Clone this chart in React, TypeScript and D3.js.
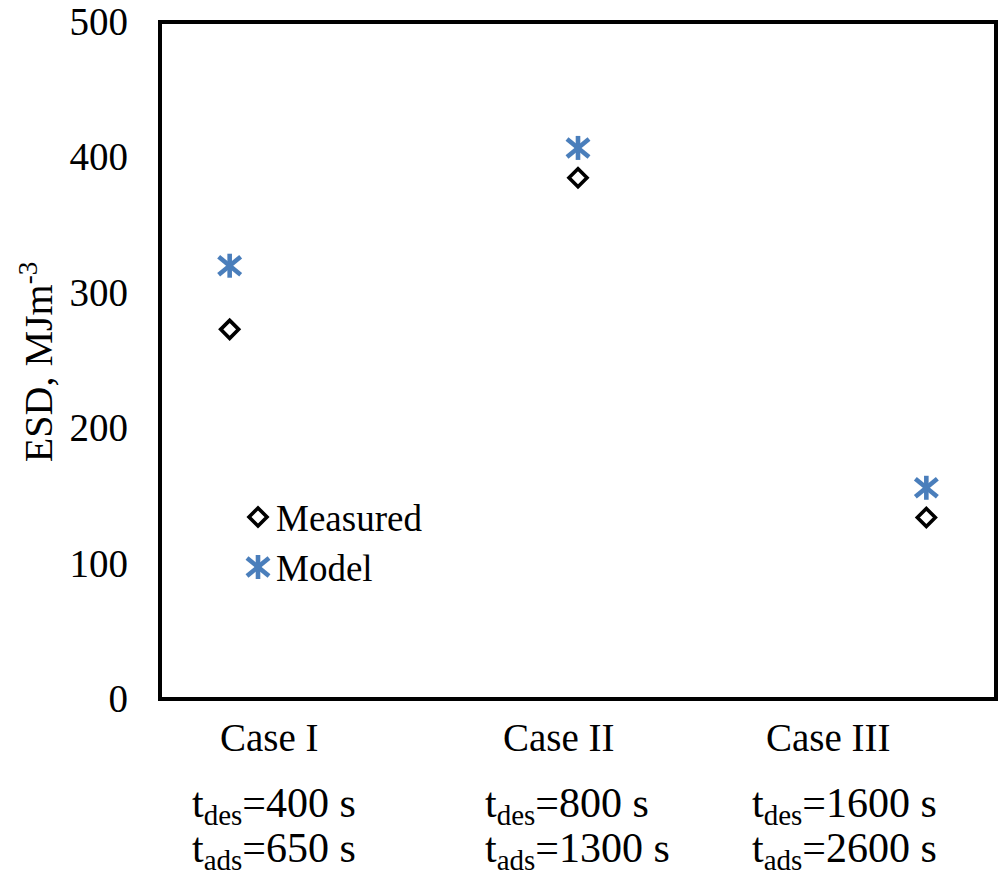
import React from "react";
import * as d3 from "d3";

const categories = ["Case I", "Case II", "Case III"];
const measured = [273, 385, 134];
const model = [320, 407, 156];
const yTicks = [0, 100, 200, 300, 400, 500];
const tDes = ["400", "800", "1600"];
const tAds = ["650", "1300", "2600"];

const W = 1001;
const H = 885;
const left = 160;
const right = 996;
const top = 22;
const bottom = 699;
const FONT = "'Liberation Serif', 'Times New Roman', serif";
const BLUE = "#4a7ebb";

const x = d3.scaleLinear().domain([0.8, 3.2]).range([left, right]);
const y = d3.scaleLinear().domain([0, 500]).range([bottom, top]);

// layout offsets for the label blocks under each case
const caseLabelLeft = [220, 503, 766];
const tLabelLeft = [192, 485, 752];

function Diamond({ cx, cy }: { cx: number; cy: number }) {
  const s = 9;
  return (
    <path
      d={`M${cx},${cy - s}L${cx + s},${cy}L${cx},${cy + s}L${cx - s},${cy}Z`}
      fill="white"
      stroke="black"
      strokeWidth={3.6}
      strokeLinejoin="miter"
    />
  );
}

function Star({ cx, cy }: { cx: number; cy: number }) {
  const h = 12;
  const dx = 11;
  const dy = 9;
  return (
    <g stroke={BLUE} strokeWidth={4.6} strokeLinecap="butt">
      <line x1={cx} y1={cy - h} x2={cx} y2={cy + h} />
      <line x1={cx - dx} y1={cy - dy} x2={cx + dx} y2={cy + dy} />
      <line x1={cx - dx} y1={cy + dy} x2={cx + dx} y2={cy - dy} />
    </g>
  );
}

export default function App() {
  return (
    <svg
      width={W}
      height={H}
      style={{ position: "absolute", left: 0, top: 0, background: "white" }}
      fontFamily={FONT}
    >
      <rect x={0} y={0} width={W} height={H} fill="white" />
      <rect
        x={left}
        y={top}
        width={right - left}
        height={bottom - top}
        fill="none"
        stroke="black"
        strokeWidth={4}
      />
      {yTicks.map((t) => (
        <text
          key={t}
          x={128}
          y={y(t) + 13}
          textAnchor="end"
          fontSize={39}
          fill="black"
        >
          {t}
        </text>
      ))}
      <text
        transform={`translate(52, ${362}) rotate(-90)`}
        textAnchor="middle"
        fontSize={40}
        fill="black"
      >
        ESD, MJm
        <tspan dy={-15} fontSize={27}>
          -3
        </tspan>
      </text>
      {categories.map((c, i) => (
        <g key={c}>
          <Star cx={x(i + 1)} cy={y(model[i])} />
          <Diamond cx={x(i + 1)} cy={y(measured[i])} />
          <text x={caseLabelLeft[i]} y={751} fontSize={39} fill="black">
            {c}
          </text>
          <text x={tLabelLeft[i]} y={817} fontSize={42} fill="black">
            t
            <tspan dy={8} fontSize={29}>
              des
            </tspan>
            <tspan dy={-8}>={tDes[i]} s</tspan>
          </text>
          <text x={tLabelLeft[i]} y={862} fontSize={42} fill="black">
            t
            <tspan dy={8} fontSize={29}>
              ads
            </tspan>
            <tspan dy={-8}>={tAds[i]} s</tspan>
          </text>
        </g>
      ))}
      <Diamond cx={258} cy={517} />
      <text x={276} y={531} fontSize={37} fill="black">
        Measured
      </text>
      <Star cx={258} cy={567} />
      <text x={276} y={581} fontSize={37} fill="black">
        Model
      </text>
    </svg>
  );
}
